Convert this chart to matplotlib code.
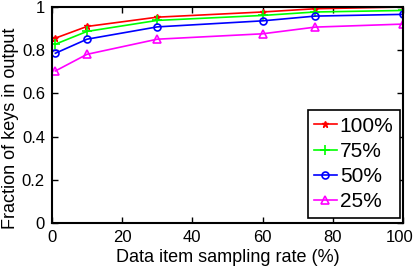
import matplotlib
matplotlib.use("Agg")
import matplotlib.pyplot as plt
from matplotlib.transforms import ScaledTranslation

plt.rcParams['font.family'] = ['Liberation Sans', 'DejaVu Sans']

rates = [1, 10, 30, 60, 75, 100]
keys100 = [0.856, 0.910, 0.953, 0.977, 0.992, 1.000]
keys75 = [0.828, 0.887, 0.938, 0.961, 0.977, 0.984]
keys50 = [0.786, 0.851, 0.908, 0.936, 0.958, 0.966]
keys25 = [0.704, 0.781, 0.851, 0.876, 0.907, 0.921]
labels = ["100%", "75%", "50%", "25%"]
xticks = [0, 20, 40, 60, 80, 100]
yticks = [0, 0.2, 0.4, 0.6, 0.8, 1]
yticklabels = ["0", "0.2", "0.4", "0.6", "0.8", "1"]

fig = plt.figure(figsize=(4.15, 2.7), dpi=100)
ax = fig.add_axes([0.125, 0.174, 0.846, 0.80])

ax.plot(rates, keys100, color="#ff0000", marker="*", markersize=5, lw=1.2, label=labels[0])
ax.plot(rates, keys75, color="#00ff00", marker="+", markersize=7, mew=1.2, lw=1.2, label=labels[1])
ax.plot(rates, keys50, color="#0000ff", marker="o", markersize=5, mfc="none", mew=1.2, lw=1.2, label=labels[2])
ax.plot(rates, keys25, color="#ff00ff", marker="^", markersize=6, mfc="none", mew=1.2, lw=1.2, label=labels[3])

ax.set_xlim(0, 100)
ax.set_ylim(0, 1)
ax.set_xticks(xticks)
ax.set_yticks(yticks)
ax.set_yticklabels(yticklabels)
ax.tick_params(direction="in", top=True, right=True, labelsize=12, length=4, width=1, pad=5)
for s in ax.spines.values():
    s.set_linewidth(1.5)
ax.set_xlabel("Data item sampling rate (%)", fontsize=13, labelpad=3)
ax.set_ylabel("Fraction of keys in output", fontsize=13)
ax.yaxis.set_label_coords(-0.094, 0.44)

# keep the last x tick label inside the figure
last = ax.get_xticklabels()[-1]
last.set_transform(last.get_transform() + ScaledTranslation(-3 / 100, 0, fig.dpi_scale_trans))

leg = ax.legend(loc="lower right", bbox_to_anchor=(0.991, 0.025), borderaxespad=0,
                fontsize=15, fancybox=False, framealpha=1,
                edgecolor="black", handlelength=1.1, handletextpad=0.15,
                borderpad=0.3, labelspacing=0.3)
leg.get_frame().set_linewidth(1.2)

fig.savefig("out.png", dpi=100)
